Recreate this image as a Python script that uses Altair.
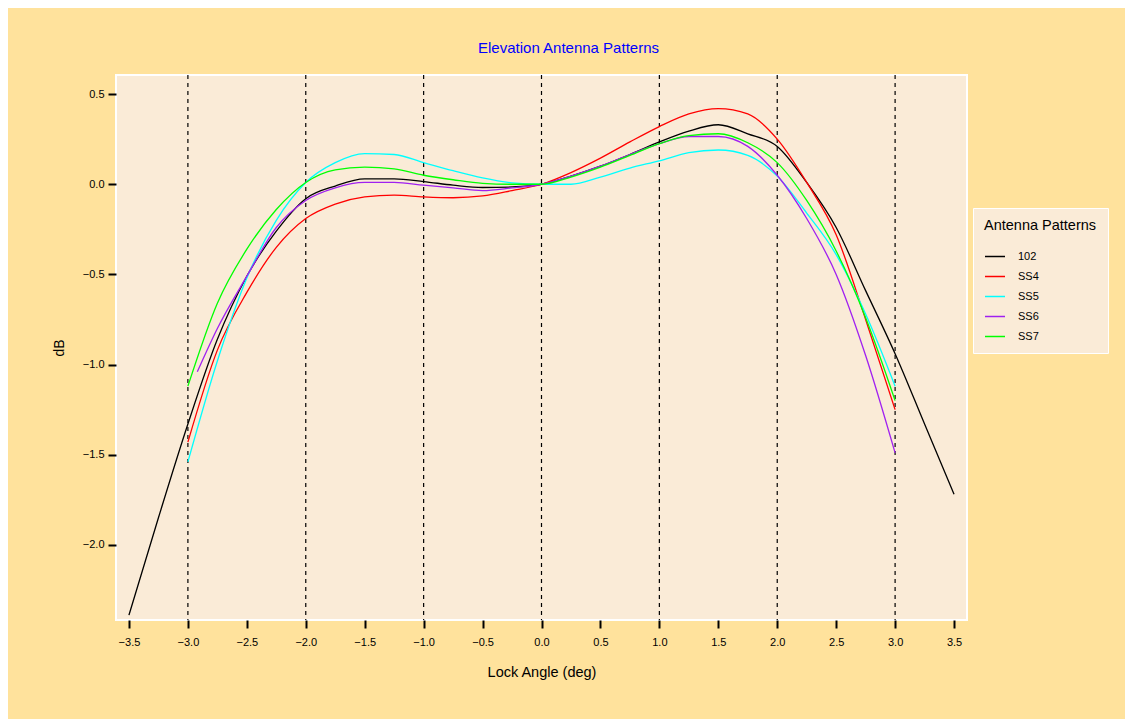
import altair as alt
import pandas as pd

# ---- data ----
series_names = ["102", "SS4", "SS5", "SS6", "SS7"]
series_colors = ["#000000", "#FF0000", "#00FFFF", "#A020F0", "#00FF00"]

x_102 = [-3.5, -3.25, -3.0, -2.75, -2.5, -2.25, -2.0, -1.75, -1.5, -1.25, -1.0, -0.75, -0.5, -0.25,
         0.0, 0.25, 0.5, 0.75, 1.0, 1.25, 1.5, 1.75, 2.0, 2.25, 2.5, 2.75, 3.0, 3.25, 3.5]
y_102 = [-2.39, -1.85, -1.33, -0.86, -0.51, -0.26, -0.08, -0.01, 0.03, 0.03, 0.015, -0.005, -0.018, -0.015,
         0.0, 0.045, 0.10, 0.165, 0.235, 0.295, 0.33, 0.28, 0.21, 0.01, -0.24, -0.59, -0.94, -1.33, -1.72]

x_ss = [-3.0, -2.75, -2.5, -2.25, -2.0, -1.75, -1.5, -1.25, -1.0, -0.75, -0.5, -0.25,
        0.0, 0.25, 0.5, 0.75, 1.0, 1.25, 1.5, 1.75, 2.0, 2.25, 2.5, 2.75, 3.0]
y_ss4 = [-1.43, -0.92, -0.60, -0.35, -0.19, -0.11, -0.07, -0.06, -0.07, -0.075, -0.065, -0.035,
         0.0, 0.065, 0.145, 0.235, 0.32, 0.39, 0.42, 0.39, 0.25, 0.01, -0.28, -0.75, -1.25]
y_ss5 = [-1.54, -0.98, -0.52, -0.20, 0.01, 0.12, 0.17, 0.165, 0.12, 0.075, 0.035, 0.008,
         0.0, 0.0, 0.04, 0.09, 0.13, 0.175, 0.19, 0.16, 0.045, -0.16, -0.39, -0.72, -1.12]
x_ss6 = [-2.92, -2.75, -2.5, -2.25, -2.0, -1.75, -1.5, -1.25, -1.0, -0.75, -0.5, -0.25,
         0.0, 0.25, 0.5, 0.75, 1.0, 1.25, 1.5, 1.75, 2.0, 2.25, 2.5, 2.75, 3.0]
y_ss6 = [-1.04, -0.80, -0.51, -0.24, -0.09, -0.02, 0.01, 0.01, -0.005, -0.02, -0.035, -0.02,
         0.0, 0.045, 0.10, 0.165, 0.225, 0.265, 0.265, 0.21, 0.05, -0.19, -0.50, -0.95, -1.49]
y_ss7 = [-1.12, -0.66, -0.36, -0.14, 0.01, 0.08, 0.095, 0.085, 0.05, 0.025, 0.005, 0.0,
         0.0, 0.04, 0.095, 0.16, 0.225, 0.27, 0.28, 0.23, 0.12, -0.09, -0.37, -0.74, -1.20]

grid_angles = [-3.0, -2.0, -1.0, 0.0, 1.0, 2.0, 3.0]
x_tick_values = [-3.5, -3.0, -2.5, -2.0, -1.5, -1.0, -0.5, 0.0, 0.5, 1.0, 1.5, 2.0, 2.5, 3.0, 3.5]
y_tick_values = [-2.0, -1.5, -1.0, -0.5, 0.0, 0.5]

# ---- build tables ----
rows = []
for name, xs, ys in [("102", x_102, y_102), ("SS4", x_ss, y_ss4), ("SS5", x_ss, y_ss5),
                     ("SS6", x_ss6, y_ss6), ("SS7", x_ss, y_ss7)]:
    for i, (a, v) in enumerate(zip(xs, ys)):
        rows.append({"series": name, "angle": a, "dB": v, "order": i})
df = pd.DataFrame(rows)
grid_df = pd.DataFrame({"angle": grid_angles})

FONT = "Liberation Sans"

x_scale = alt.Scale(domain=[-3.61, 3.61], nice=False, zero=False)
y_scale = alt.Scale(domain=[-2.417, 0.606], nice=False, zero=False)

x_axis = alt.Axis(values=x_tick_values, format=".1f", title="Lock Angle (deg)", grid=False, domain=False,
                  tickSize=8, tickWidth=2, tickColor="black", labelFontSize=11, labelPadding=8,
                  labelColor="black", titleFontSize=14.5, titleFontWeight="normal", titlePadding=18,
                  titleColor="black")
y_axis = alt.Axis(values=y_tick_values, format=".1f", title="dB", grid=False, domain=False,
                  tickSize=8, tickWidth=2, tickColor="black", labelFontSize=11, labelPadding=4,
                  labelColor="black", titleFontSize=14, titleFontWeight="normal", titlePadding=16,
                  titleColor="black")

rules = alt.Chart(grid_df).mark_rule(color="black", strokeWidth=1.2, strokeDash=[4, 4]).encode(
    x=alt.X("angle:Q", scale=x_scale, axis=x_axis)
)

lines = alt.Chart(df).mark_line(strokeWidth=1.3, interpolate="monotone", clip=True).encode(
    x=alt.X("angle:Q", scale=x_scale, axis=x_axis),
    y=alt.Y("dB:Q", scale=y_scale, axis=y_axis),
    color=alt.Color("series:N",
                    scale=alt.Scale(domain=series_names, range=series_colors),
                    legend=alt.Legend(title="Antenna Patterns", orient="none", legendX=857, legendY=133,
                                      fillColor="#FAEBD7", strokeColor="white", padding=11,
                                      titleFontSize=14.5, titleFontWeight="normal", titleColor="black",
                                      titlePadding=12, labelFontSize=11, labelColor="black",
                                      symbolType="stroke", symbolSize=400, symbolStrokeWidth=1.5,
                                      rowPadding=4, labelOffset=12)),
    order="order:Q",
)

chart = alt.layer(rules, lines).properties(
    width=851, height=545,
    autosize="none",
    padding={"left": 108, "top": 67, "right": 158, "bottom": 99},
    background="#FFE29C",
    title=alt.TitleParams("Elevation Antenna Patterns", color="#0000FF", fontSize=15, fontWeight="normal",
                          font=FONT, anchor="middle", dx=27, offset=18),
).configure(font=FONT).configure_view(fill="#FAEBD7", stroke="white", strokeWidth=2)

chart.save("out.html", embed_options={"renderer": "svg", "actions": False})
